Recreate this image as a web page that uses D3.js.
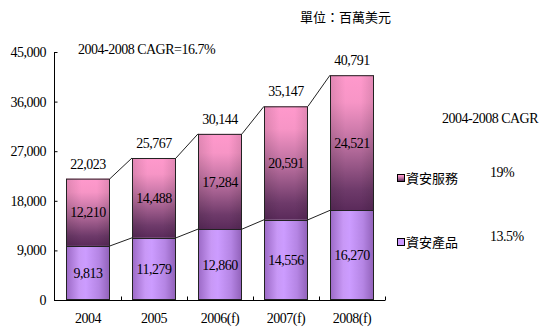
<!DOCTYPE html>
<html>
<head>
<meta charset="utf-8">
<script src="https://cdn.jsdelivr.net/npm/d3@7/dist/d3.min.js"></script>
<style>
  html, body { margin: 0; padding: 0; background: #fff; }
  svg { display: block; }
  .num { font-family: "Liberation Serif", "Times New Roman", serif; font-size: 14px; letter-spacing: -0.5px; fill: #000; }
  .cjk { font-family: "Noto Sans CJK TC", sans-serif; font-size: 13px; fill: #000; }
</style>
</head>
<body>
<svg id="chart" width="550" height="332"></svg>
<script>
// Market size by year (million USD)
const years = ["2004", "2005", "2006(f)", "2007(f)", "2008(f)"];
const products = [9813, 11279, 12860, 14556, 16270];   // 資安產品
const services = [12210, 14488, 17284, 20591, 24521];  // 資安服務
const totals = [22023, 25767, 30144, 35147, 40791];
const yTicks = [0, 9000, 18000, 27000, 36000, 45000];
const seriesNames = ["資安服務", "資安產品"];
const cagrRates = ["19%", "13.5%"];
const unitLabel = "單位：百萬美元";
const overallCagr = "2004-2008 CAGR=16.7%";
const cagrHeader = "2004-2008 CAGR";

const svg = d3.select("#chart");
const fmt = d3.format(",");

const x = d3.scaleBand().domain(years).range([55, 385]).paddingInner(1 / 3).paddingOuter(1 / 6);
const y = d3.scaleLinear().domain([0, 45000]).range([300, 52]);

// Gradients
const defs = svg.append("defs");
const gSvc = defs.append("linearGradient").attr("id", "svcGrad")
  .attr("x1", 0).attr("y1", 0).attr("x2", 0).attr("y2", 1);
[[0, "#ff99cc"], [0.2, "#f795c6"], [0.55, "#b36a9a"], [0.85, "#6e3a6a"], [1, "#5a2a5a"]]
  .forEach(([o, c]) => gSvc.append("stop").attr("offset", o).attr("stop-color", c));

const gSvcH = defs.append("linearGradient").attr("id", "svcShade")
  .attr("x1", 0).attr("y1", 0).attr("x2", 1).attr("y2", 0);
[[0, "#000", 0.12], [0.35, "#000", 0], [0.7, "#000", 0], [1, "#000", 0.12]]
  .forEach(([o, c, a]) => gSvcH.append("stop").attr("offset", o).attr("stop-color", c).attr("stop-opacity", a));

const gProd = defs.append("linearGradient").attr("id", "prodGrad")
  .attr("x1", 0).attr("y1", 0).attr("x2", 1).attr("y2", 0);
[[0, "#9a68c4"], [0.3, "#c898f6"], [0.45, "#cc9cff"], [0.75, "#b585e4"], [1, "#9060b8"]]
  .forEach(([o, c]) => gProd.append("stop").attr("offset", o).attr("stop-color", c));

// Bars
const bw = x.bandwidth();
const bars = svg.append("g");
bars.selectAll("rect.prod").data(years).join("rect")
  .attr("class", "prod")
  .attr("x", d => x(d)).attr("width", bw)
  .attr("y", (d, i) => y(products[i]))
  .attr("height", (d, i) => y(0) - y(products[i]))
  .attr("fill", "url(#prodGrad)");
bars.selectAll("rect.svc").data(years).join("rect")
  .attr("class", "svc")
  .attr("x", d => x(d)).attr("width", bw)
  .attr("y", (d, i) => y(products[i] + services[i]))
  .attr("height", (d, i) => y(products[i]) - y(products[i] + services[i]))
  .attr("fill", "url(#svcGrad)");
bars.selectAll("rect.shade").data(years).join("rect")
  .attr("class", "shade")
  .attr("x", d => x(d)).attr("width", bw)
  .attr("y", (d, i) => y(products[i] + services[i]))
  .attr("height", (d, i) => y(products[i]) - y(products[i] + services[i]))
  .attr("fill", "url(#svcShade)");
// Outlines
bars.selectAll("rect.outline").data(years).join("rect")
  .attr("class", "outline")
  .attr("x", d => x(d) + 0.5).attr("width", bw - 1)
  .attr("y", (d, i) => y(products[i] + services[i]) + 0.5)
  .attr("height", (d, i) => y(0) - y(products[i] + services[i]) - 1)
  .attr("fill", "none").attr("stroke", "#222").attr("stroke-width", 1);
bars.selectAll("line.split").data(years).join("line")
  .attr("class", "split")
  .attr("x1", d => x(d)).attr("x2", d => x(d) + bw)
  .attr("y1", (d, i) => Math.round(y(products[i])) + 0.5)
  .attr("y2", (d, i) => Math.round(y(products[i])) + 0.5)
  .attr("stroke", "#222");

// Series connector lines
const conn = svg.append("g").attr("stroke", "#222").attr("stroke-width", 1);
[products, totals].forEach(vals => {
  for (let i = 0; i < years.length - 1; i++) {
    conn.append("line")
      .attr("x1", x(years[i]) + bw).attr("y1", y(vals[i]))
      .attr("x2", x(years[i + 1])).attr("y2", y(vals[i + 1]));
  }
});

// Axes
const yAxis = svg.append("g").attr("transform", "translate(54.5,0)")
  .call(d3.axisRight(y).tickValues(yTicks).tickSize(3).tickFormat(""));
yAxis.select(".domain").attr("d", `M0,${y(45000)}V${y(0)}`).attr("stroke", "#000");
yAxis.selectAll(".tick line").attr("stroke", "#000");

const xAxis = svg.append("g").attr("transform", `translate(0,${y(0) + 0.5})`);
xAxis.append("line").attr("x1", 54).attr("x2", 385).attr("stroke", "#000");
xAxis.selectAll("line.tk").data(years).join("line")
  .attr("class", "tk")
  .attr("x1", d => x(d) + bw + x.step() * x.paddingInner() / 2 + 0.5)
  .attr("x2", d => x(d) + bw + x.step() * x.paddingInner() / 2 + 0.5)
  .attr("y1", 0).attr("y2", -4).attr("stroke", "#000");

// Tick labels
svg.append("g").selectAll("text").data(yTicks).join("text")
  .attr("class", "num").attr("text-anchor", "end")
  .attr("x", 46).attr("y", d => y(d) + 5)
  .text(d => fmt(d));
svg.append("g").selectAll("text").data(years).join("text")
  .attr("class", "num").attr("text-anchor", "middle")
  .attr("x", d => x(d) + bw / 2).attr("y", 323)
  .text(d => d);

// Value labels
const vl = svg.append("g").attr("text-anchor", "middle");
years.forEach((yr, i) => {
  const cx = x(yr) + bw / 2;
  vl.append("text").attr("class", "num").attr("x", cx).attr("y", y(totals[i]) - 10).text(fmt(totals[i]));
  vl.append("text").attr("class", "num").attr("x", cx)
    .attr("y", (y(products[i]) + y(products[i] + services[i])) / 2 + 5).text(fmt(services[i]));
  vl.append("text").attr("class", "num").attr("x", cx)
    .attr("y", (y(0) + y(products[i])) / 2 + 5).text(fmt(products[i]));
});

// Titles
svg.append("text").attr("class", "num").attr("x", 78).attr("y", 54).text(overallCagr);
svg.append("text").attr("class", "cjk").attr("x", 300).attr("y", 22).text(unitLabel);
svg.append("text").attr("class", "num").attr("x", 442).attr("y", 123).text(cagrHeader);

// Legend
const legFills = ["url(#svcGrad)", "#cc99ff"];
const legY = [178, 242];
seriesNames.forEach((name, i) => {
  svg.append("rect").attr("x", 397.5).attr("y", legY[i] - 3.5).attr("width", 7).attr("height", 7)
    .attr("fill", legFills[i]).attr("stroke", "#000");
  svg.append("text").attr("class", "cjk").attr("x", 406).attr("y", legY[i] + 5).text(name);
  svg.append("text").attr("class", "num").attr("x", 490).attr("y", legY[i] - 1).text(cagrRates[i]);
});
</script>
</body>
</html>
